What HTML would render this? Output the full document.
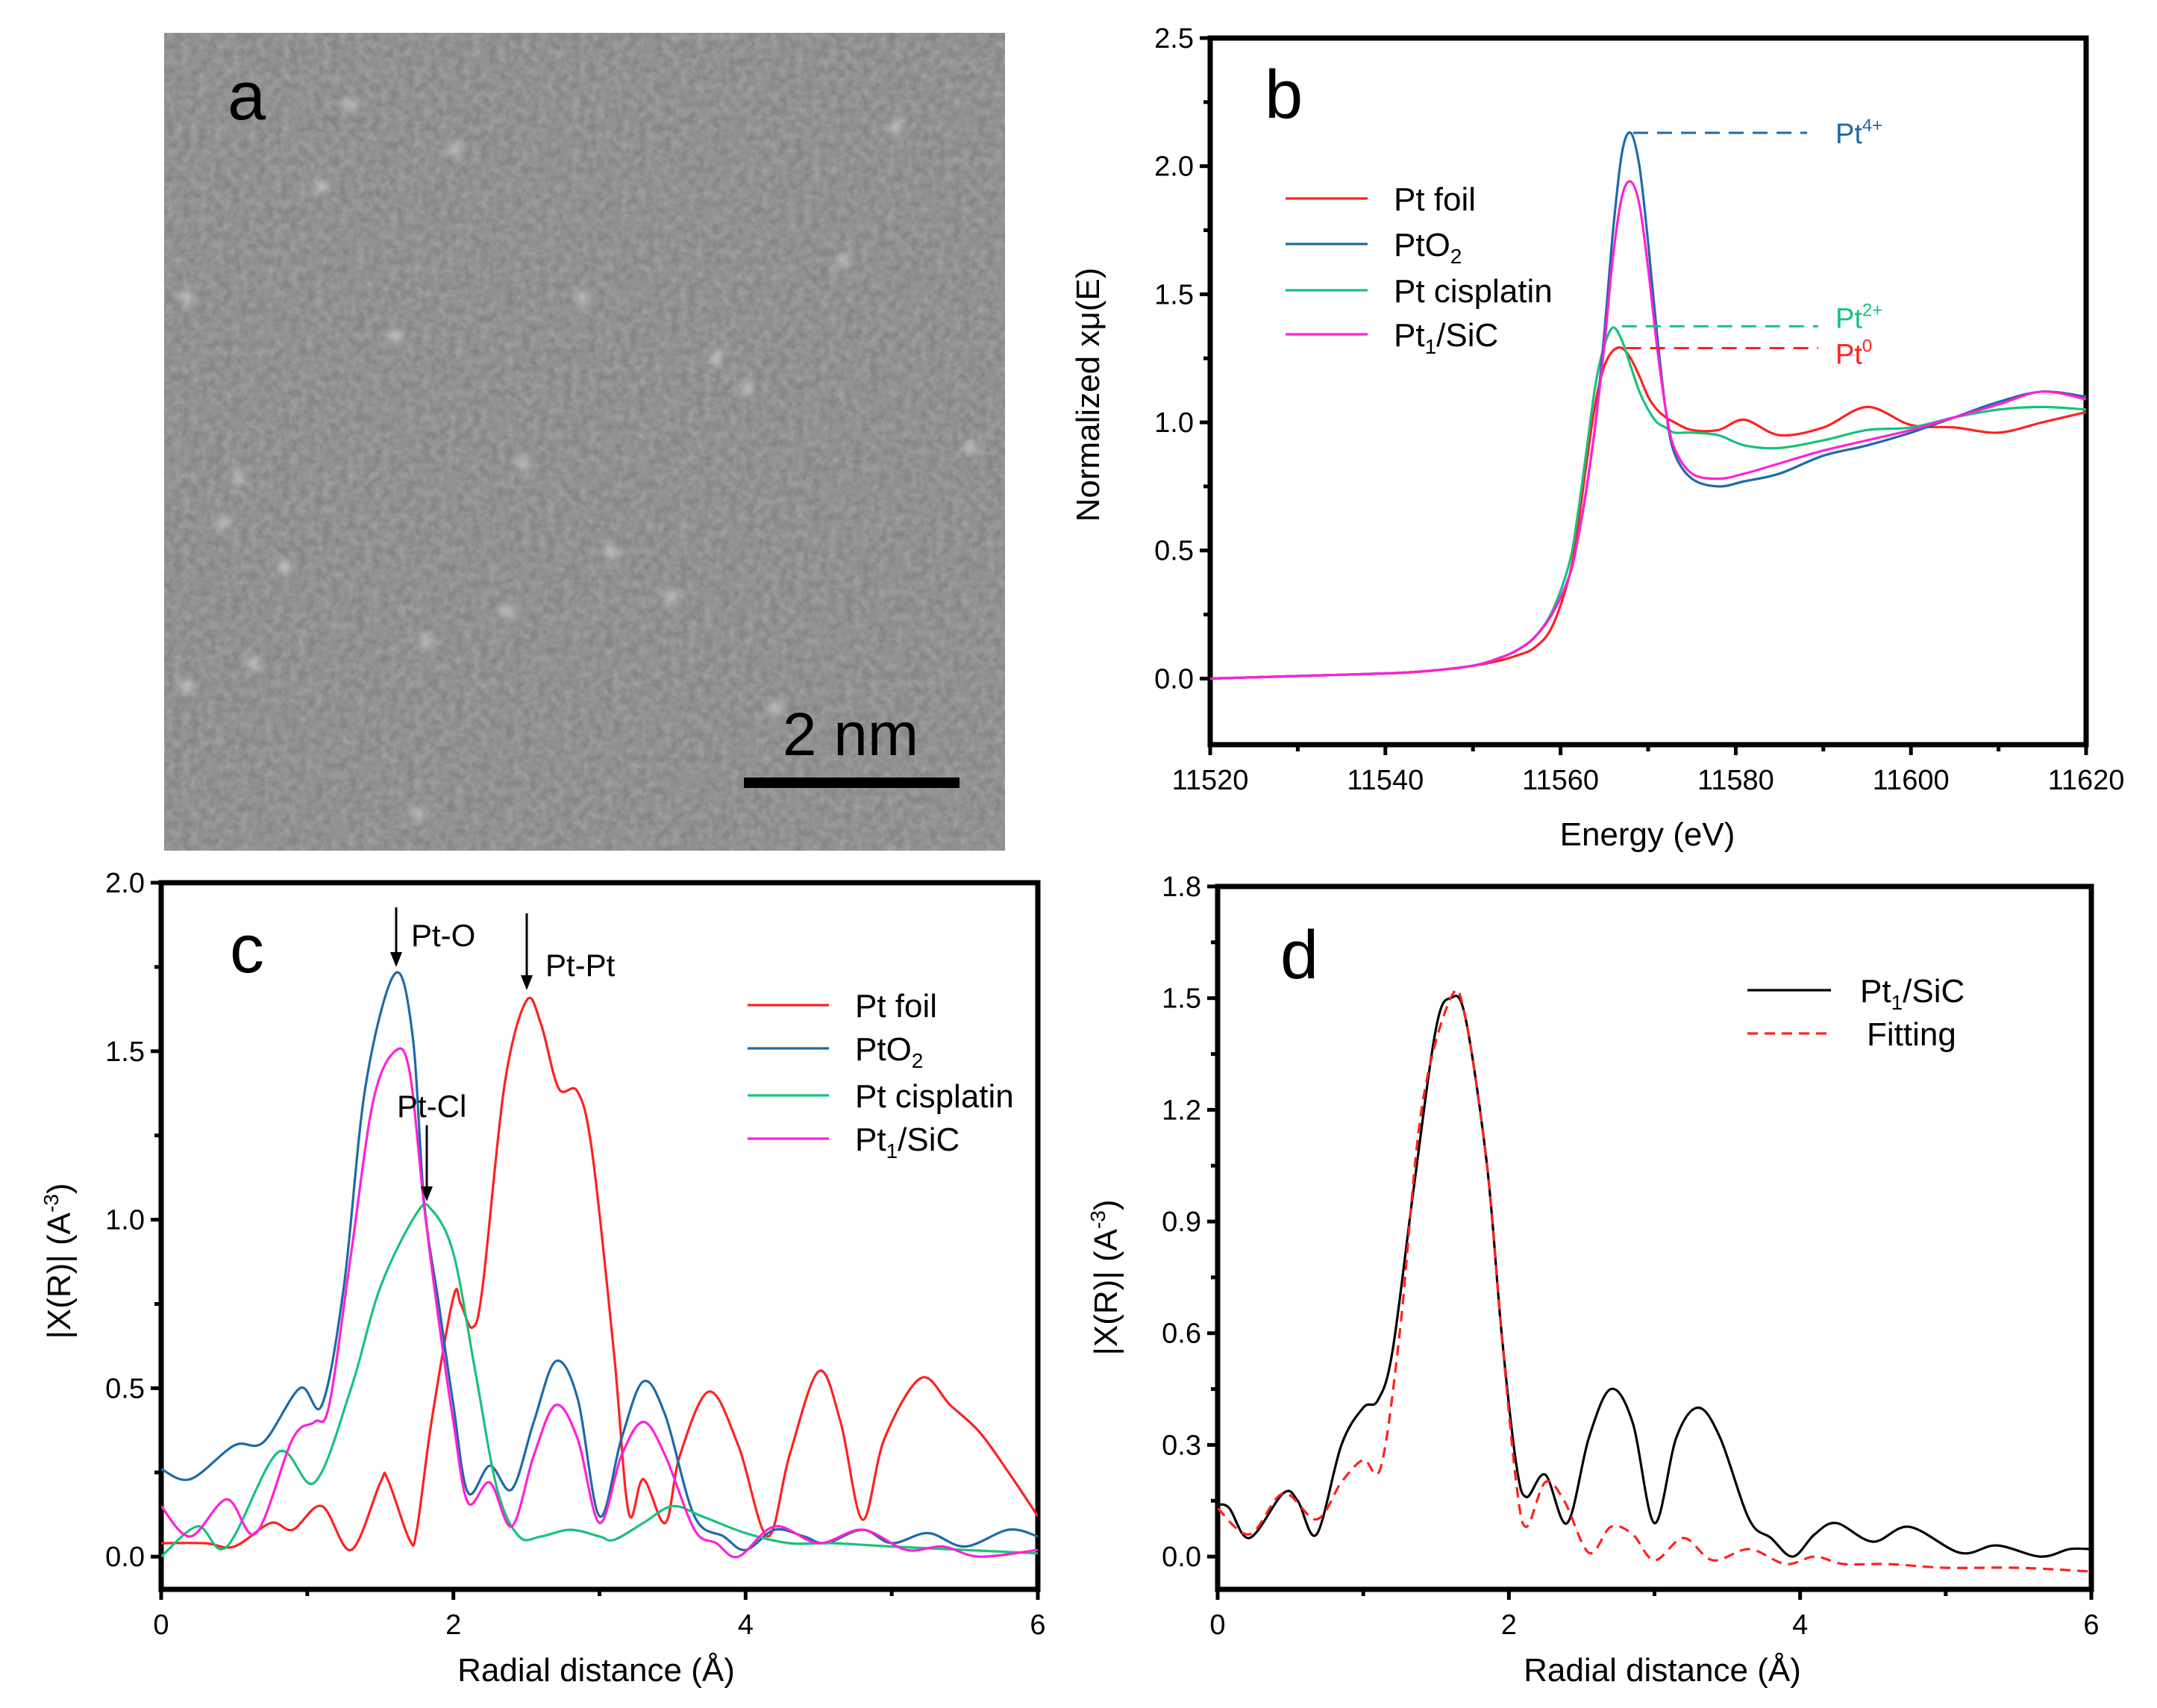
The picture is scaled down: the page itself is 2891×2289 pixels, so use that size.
<!DOCTYPE html>
<html><head><meta charset="utf-8">
<style>
html,body{margin:0;padding:0;background:#fff;}
svg{display:block;font-family:"Liberation Sans",sans-serif;}
</style></head>
<body>
<svg id="fig" width="2891" height="2289" viewBox="0 0 2891 2289" xmlns="http://www.w3.org/2000/svg">
<defs>
<filter id="noise" x="0" y="0" width="100%" height="100%">
<feTurbulence type="fractalNoise" baseFrequency="0.09" numOctaves="3" seed="4"/>
<feColorMatrix type="matrix" values="0 0 0 0 0.5  0 0 0 0 0.5  0 0 0 0 0.5  0 0 0 0.9 -0.2"/>
</filter>
<filter id="blob"><feGaussianBlur stdDeviation="6"/></filter>
</defs>
<g>
<rect x="220" y="44" width="1127" height="1096" fill="#858585"/>
<rect x="220" y="44" width="1127" height="1096" filter="url(#noise)" opacity="0.9"/>
<g id="blobs" filter="url(#blob)" fill="#e0e0e0" opacity="0.75"></g>
<text x="305" y="160" font-size="92" fill="#000">a</text>
<text x="1140" y="1012" font-size="82" text-anchor="middle" fill="#000">2 nm</text>
<rect x="997" y="1042" width="289" height="14" fill="#000"/>
</g>
<g id="pb"></g>
<g id="pc"></g>
<g id="pd"></g>
</svg>
<script>
// ---------- Panel b data ----------
const bEnergy = [11520,11530,11540,11545,11550,11553,11555,11557,11559,11561,11562,11563,11564,11565,11566,11567,11568,11569,11570,11571,11572,11573,11575,11578,11581,11585,11590,11595,11600,11605,11610,11615,11620];
const bPtFoil = [0,0.01,0.02,0.03,0.05,0.07,0.09,0.12,0.2,0.4,0.6,0.85,1.08,1.22,1.28,1.29,1.25,1.18,1.10,1.05,1.02,1.0,0.97,0.97,1.01,0.95,0.98,1.06,0.99,0.98,0.96,1.0,1.04];
const bPtO2 = [0,0.01,0.02,0.03,0.05,0.08,0.11,0.16,0.25,0.4,0.55,0.75,1.0,1.35,1.75,2.05,2.13,2.0,1.7,1.35,1.05,0.88,0.78,0.75,0.77,0.80,0.87,0.91,0.96,1.02,1.08,1.12,1.10];
const bCisplatin = [0,0.01,0.02,0.03,0.05,0.08,0.11,0.16,0.26,0.45,0.65,0.9,1.15,1.30,1.37,1.32,1.22,1.12,1.05,1.0,0.98,0.96,0.96,0.95,0.91,0.90,0.93,0.97,0.98,1.02,1.05,1.06,1.05];
const bPtSiC = [0,0.01,0.02,0.03,0.05,0.08,0.11,0.16,0.25,0.4,0.55,0.75,1.0,1.3,1.65,1.88,1.94,1.85,1.6,1.3,1.05,0.9,0.80,0.78,0.80,0.84,0.89,0.93,0.97,1.02,1.07,1.12,1.09];
const bXTicks = ["11520","11540","11560","11580","11600","11620"];
const bYTicks = ["0.0","0.5","1.0","1.5","2.0","2.5"];
// ---------- Panel c data ----------
const cFoilR = [0,0.3,0.5,0.75,0.9,1.1,1.3,1.5,1.55,1.7,1.75,1.85,2.0,2.05,2.13,2.2,2.35,2.5,2.6,2.72,2.85,2.95,3.1,3.2,3.3,3.45,3.55,3.75,3.95,4.15,4.3,4.5,4.65,4.8,4.95,5.2,5.4,5.6,5.8,6.0];
const cFoilV = [0.04,0.04,0.03,0.10,0.08,0.15,0.02,0.22,0.23,0.05,0.08,0.4,0.77,0.75,0.68,0.8,1.4,1.65,1.58,1.39,1.38,1.2,0.6,0.13,0.23,0.10,0.3,0.49,0.33,0.06,0.3,0.55,0.4,0.11,0.35,0.53,0.45,0.37,0.25,0.12];
const cPtO2R = [0,0.2,0.5,0.7,0.95,1.1,1.25,1.4,1.6,1.72,1.8,1.9,2.0,2.1,2.25,2.4,2.55,2.7,2.85,3.0,3.15,3.3,3.45,3.65,3.85,4.0,4.2,4.4,4.55,4.8,5.0,5.25,5.5,5.8,6.0];
const cPtO2V = [0.26,0.23,0.33,0.34,0.50,0.45,0.8,1.4,1.73,1.55,1.05,0.75,0.45,0.19,0.27,0.20,0.40,0.58,0.47,0.12,0.35,0.52,0.42,0.12,0.06,0.02,0.08,0.06,0.04,0.08,0.04,0.07,0.03,0.08,0.06];
const cCisR = [0,0.25,0.45,0.8,1.05,1.3,1.5,1.75,1.85,2.0,2.15,2.3,2.45,2.6,2.8,3.0,3.1,3.3,3.5,3.7,4.0,4.3,4.6,5.0,5.5,6.0];
const cCisV = [0.0,0.09,0.03,0.31,0.22,0.5,0.8,1.02,1.03,0.9,0.55,0.2,0.06,0.06,0.08,0.06,0.05,0.10,0.15,0.12,0.07,0.04,0.04,0.03,0.02,0.01];
const cSiCR = [0,0.2,0.45,0.65,0.9,1.05,1.15,1.3,1.45,1.6,1.7,1.8,1.9,2.0,2.1,2.25,2.4,2.55,2.7,2.85,3.0,3.15,3.3,3.45,3.65,3.8,3.95,4.2,4.5,4.8,5.1,5.35,5.6,6.0];
const cSiCV = [0.15,0.06,0.17,0.07,0.35,0.4,0.45,0.9,1.35,1.5,1.44,1.04,0.7,0.4,0.16,0.22,0.09,0.30,0.45,0.35,0.1,0.3,0.40,0.30,0.08,0.04,0.0,0.09,0.04,0.08,0.02,0.03,0.0,0.02];
const cXTicks = ["0","2","4","6"];
const cYTicks = ["0.0","0.5","1.0","1.5","2.0"];
// ---------- Panel d data ----------
const dExpR = [0,0.08,0.22,0.45,0.55,0.68,0.85,1.0,1.1,1.2,1.35,1.5,1.6,1.7,1.85,1.95,2.05,2.12,2.25,2.4,2.55,2.7,2.85,3.0,3.15,3.3,3.45,3.65,3.8,3.95,4.1,4.25,4.5,4.75,5.1,5.35,5.65,5.85,6.0];
const dExpV = [0.14,0.13,0.05,0.17,0.15,0.06,0.3,0.4,0.42,0.55,1.0,1.42,1.5,1.45,1.05,0.6,0.25,0.16,0.22,0.09,0.32,0.45,0.36,0.09,0.32,0.40,0.32,0.1,0.05,0.0,0.06,0.09,0.04,0.08,0.01,0.03,0.0,0.02,0.02];
const dFitR = [0,0.22,0.45,0.68,0.85,1.0,1.12,1.25,1.4,1.6,1.7,1.85,1.95,2.05,2.12,2.25,2.38,2.55,2.7,2.85,3.0,3.2,3.4,3.65,3.9,4.1,4.3,4.6,5.0,5.5,6.0];
const dFitV = [0.13,0.06,0.17,0.10,0.2,0.26,0.24,0.6,1.2,1.5,1.45,1.05,0.6,0.2,0.08,0.20,0.15,0.01,0.08,0.06,-0.01,0.05,-0.01,0.02,-0.02,0.0,-0.02,-0.02,-0.03,-0.03,-0.04];
const dXTicks = ["0","2","4","6"];
const dYTicks = ["0.0","0.3","0.6","0.9","1.2","1.5","1.8"];

const NS="http://www.w3.org/2000/svg";
function mk(parent,tag,attrs){const e=document.createElementNS(NS,tag);for(const k in attrs)e.setAttribute(k,attrs[k]);parent.appendChild(e);return e;}
function smooth(pts){
  let d="M"+pts[0][0].toFixed(1)+","+pts[0][1].toFixed(1);
  for(let i=0;i<pts.length-1;i++){
    const p0=pts[Math.max(0,i-1)],p1=pts[i],p2=pts[i+1],p3=pts[Math.min(pts.length-1,i+2)];
    const c1=[p1[0]+(p2[0]-p0[0])/6,p1[1]+(p2[1]-p0[1])/6];
    const c2=[p2[0]-(p3[0]-p1[0])/6,p2[1]-(p3[1]-p1[1])/6];
    d+=" C"+c1[0].toFixed(1)+","+c1[1].toFixed(1)+" "+c2[0].toFixed(1)+","+c2[1].toFixed(1)+" "+p2[0].toFixed(1)+","+p2[1].toFixed(1);
  }
  return d;
}
function axes(g,o){
  const sx=v=>o.L+(v-o.xmin)/(o.xmax-o.xmin)*(o.R-o.L);
  const sy=v=>o.B-(v-o.ymin)/(o.ymax-o.ymin)*(o.B-o.T);
  o.xt.forEach(t=>{const v=parseFloat(t);const x=sx(v);
    const tk=mk(g,"line",{x1:x,x2:x,y1:o.B,y2:o.B+14,stroke:"#000","stroke-width":5});
    
    
    const tl=mk(g,"text",{x:x,y:o.B+60,"font-size":38,"text-anchor":"middle",fill:"#000"});tl.textContent=t;
    
    
  });
  for(let v=o.xmin+o.xminor;v<o.xmax;v+=o.xminor*2){const x=sx(v);
    const tk=mk(g,"line",{x1:x,x2:x,y1:o.B,y2:o.B+9,stroke:"#000","stroke-width":5});
    
    }
  o.yt.forEach(t=>{const v=parseFloat(t);const y=sy(v);
    const tk=mk(g,"line",{x1:o.L-14,x2:o.L,y1:y,y2:y,stroke:"#000","stroke-width":5});
    
    
    const tl=mk(g,"text",{x:o.L-22,y:y+13,"font-size":38,"text-anchor":"end",fill:"#000"});tl.textContent=t;
    
    
  });
  const y0=parseFloat(o.yt[0]);
  for(let v=y0+o.yminor;v<o.ymax;v+=o.yminor*2){const y=sy(v);
    const tk=mk(g,"line",{x1:o.L-9,x2:o.L,y1:y,y2:y,stroke:"#000","stroke-width":5});
    
    }
  const fr=mk(g,"rect",{x:o.L,y:o.T,width:o.R-o.L,height:o.B-o.T,fill:"none",stroke:"#000","stroke-width":7});
  
  
  return {sx,sy};
}
function series(g,sc,xs,ys,color,name,dash,o){
  const pts=xs.map((x,i)=>[sc.sx(x),sc.sy(ys[i])]);
  const p=mk(g,"path",{d:smooth(pts),fill:"none",stroke:color,"stroke-width":3.2,"clip-path":"url(#"+o+")"});
  if(dash)p.setAttribute("stroke-dasharray",dash);
  
  
}
function clip(id,L,T,R,B){const defs=document.querySelector("defs");const c=mk(defs,"clipPath",{id:id});mk(c,"rect",{x:L,y:T,width:R-L,height:B-T});}
function legend(g,x1,x2,tx,y,color,label,sub,dash){
  const l=mk(g,"line",{x1:x1,x2:x2,y1:y,y2:y,stroke:color,"stroke-width":3.2});
  if(dash)l.setAttribute("stroke-dasharray",dash);
  
  
  const t=mk(g,"text",{x:tx,y:y+16,"font-size":44,fill:"#000"});
  
  
  if(sub){t.appendChild(document.createTextNode(label[0]));const s=mk(t,"tspan",{"font-size":28,dy:10});s.textContent=label[1];const r=mk(t,"tspan",{dy:-10});r.textContent=label[2];}
  else t.textContent=label;
}
function txt(g,x,y,size,content,name,anchor,color){const t=mk(g,"text",{x:x,y:y,"font-size":size,fill:color||"#000","text-anchor":anchor||"start"});t.textContent=content;return t;}

const blobPos=[[470,140],[610,200],[250,400],[780,400],[530,450],[960,480],[320,640],[700,620],[1000,520],[300,700],[380,760],[820,740],[570,860],[900,800],[680,820],[340,890],[1130,350],[1200,170],[430,250],[1040,950],[1300,600],[560,1090],[250,920]];
const bg=document.getElementById("blobs");
blobPos.forEach(p=>{const c=mk(bg,"circle",{cx:p[0],cy:p[1],r:8});});

// ---- Panel b ----
(function(){
  const g=document.getElementById("pb");
  const o={L:1622,R:2796,T:51,B:998,xmin:11520,xmax:11620,ymin:-0.258,ymax:2.5,xt:bXTicks,yt:bYTicks,xminor:10,yminor:0.25};
  clip("cb",o.L,o.T,o.R,o.B);
  const sc=axes(g,o);
  series(g,sc,bEnergy,bPtFoil,"#ff2020","series-pt-foil",null,"cb");
  series(g,sc,bEnergy,bCisplatin,"#17c27a","series-pt-cisplatin",null,"cb");
  series(g,sc,bEnergy,bPtO2,"#1d6aa5","series-pto2",null,"cb");
  series(g,sc,bEnergy,bPtSiC,"#ff20d8","series-pt1-sic",null,"cb");
  const ref=[[11568.3,2.13,2422,"#1d6aa5"],[11567,1.375,2437,"#17c27a"],[11567.5,1.29,2437,"#ff2020"]];
  ref.forEach(r=>{const l=mk(g,"line",{x1:sc.sx(r[0]),x2:r[2],y1:sc.sy(r[1]),y2:sc.sy(r[1]),stroke:r[3],"stroke-width":3,"stroke-dasharray":"20,12"});
    
    });
  [["4+",2.13,"#1d6aa5"],["2+",1.41,"#17c27a"],["0",1.27,"#ff2020"]].forEach(r=>{
    const t=mk(g,"text",{x:2460,y:sc.sy(r[1])+14,"font-size":38,fill:r[2]});
    
    
    t.appendChild(document.createTextNode("Pt"));const s=mk(t,"tspan",{"font-size":24,dy:-16});s.textContent=r[0];});
  legend(g,1723,1833,1868,266,"#ff2020","Pt foil");
  legend(g,1723,1833,1868,327,"#1d6aa5",["PtO","2",""],true);
  legend(g,1723,1833,1868,389,"#17c27a","Pt cisplatin");
  legend(g,1723,1833,1868,448,"#ff20d8",["Pt","1","/SiC"],true);
  txt(g,1695,158,92,"b","panel-b-label");
  txt(g,2208,1133,44,"Energy (eV)","x-axis-title","middle");
  const yt=txt(g,0,0,44,"Normalized xμ(E)","y-axis-title","middle");yt.setAttribute("transform","translate(1473,529) rotate(-90)");
})();

function ftTitle(g,x,y){const t=mk(g,"text",{"font-size":44,"text-anchor":"middle",fill:"#000",transform:"translate("+x+","+y+") rotate(-90)"});
  
  
  t.appendChild(document.createTextNode("|X(R)| (A"));const s=mk(t,"tspan",{"font-size":28,dy:-16});s.textContent="-3";const r=mk(t,"tspan",{dy:16});r.textContent=")";}

// ---- Panel c ----
(function(){
  const g=document.getElementById("pc");
  const o={L:216,R:1391,T:1183,B:2130,xmin:0,xmax:6,ymin:-0.097,ymax:2.0,xt:cXTicks,yt:cYTicks,xminor:1,yminor:0.25};
  clip("cc",o.L,o.T,o.R,o.B);
  const sc=axes(g,o);
  series(g,sc,cFoilR,cFoilV,"#ff2020","series-pt-foil",null,"cc");
  series(g,sc,cPtO2R,cPtO2V,"#1d6aa5","series-pto2",null,"cc");
  series(g,sc,cCisR,cCisV,"#17c27a","series-pt-cisplatin",null,"cc");
  series(g,sc,cSiCR,cSiCV,"#ff20d8","series-pt1-sic",null,"cc");
  legend(g,1002,1111,1146,1347,"#ff2020","Pt foil");
  legend(g,1002,1111,1146,1405,"#1d6aa5",["PtO","2",""],true);
  legend(g,1002,1111,1146,1468,"#17c27a","Pt cisplatin");
  legend(g,1002,1111,1146,1526,"#ff20d8",["Pt","1","/SiC"],true);
  txt(g,308,1303,92,"c","panel-c-label");
  [[531,1216,1296],[706,1224,1327],[572,1508,1610]].forEach(a=>{
    const l=mk(g,"line",{x1:a[0],x2:a[0],y1:a[1],y2:a[2]-14,stroke:"#000","stroke-width":3});
    
    
    const h=mk(g,"path",{d:"M"+(a[0]-8)+","+(a[2]-20)+" L"+a[0]+","+a[2]+" L"+(a[0]+8)+","+(a[2]-20)+" Z",fill:"#000"});
    
    });
  txt(g,551,1268,42,"Pt-O","pt-o-annotation");
  txt(g,731,1308,42,"Pt-Pt","pt-pt-annotation");
  txt(g,532,1497,42,"Pt-Cl","pt-cl-annotation");
  txt(g,799,2253,44,"Radial distance (Å)","x-axis-title","middle");
  ftTitle(g,94,1690);
})();

// ---- Panel d ----
(function(){
  const g=document.getElementById("pd");
  const o={L:1632,R:2803,T:1188,B:2130,xmin:0,xmax:6,ymin:-0.088,ymax:1.8,xt:dXTicks,yt:dYTicks,xminor:1,yminor:0.15};
  clip("cd",o.L,o.T,o.R,o.B);
  const sc=axes(g,o);
  series(g,sc,dExpR,dExpV,"#000","series-pt1-sic",null,"cd");
  series(g,sc,dFitR,dFitV,"#ff2020","series-fitting","14,9","cd");
  legend(g,2342,2454,2493,1327,"#000",["Pt","1","/SiC"],true);
  legend(g,2342,2454,2502,1385,"#ff2020","Fitting","","14,9");
  txt(g,1716,1311,92,"d","panel-d-label");
  txt(g,2228,2253,44,"Radial distance (Å)","x-axis-title","middle");
  ftTitle(g,1497,1712);
})();
</script>
</body></html>
